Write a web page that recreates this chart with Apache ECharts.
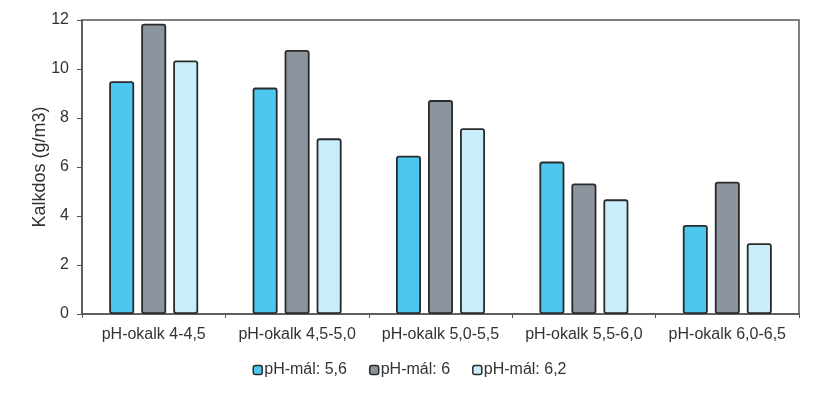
<!DOCTYPE html>
<html>
<head>
<meta charset="utf-8">
<script src="https://cdn.jsdelivr.net/npm/echarts@6/dist/echarts.min.js"></script>
<style>html,body{margin:0;padding:0;background:#fff}#c{width:819px;height:395px}</style>
</head>
<body>
<div id="c"></div>
<script>
const categories = ['pH-okalk 4-4,5', 'pH-okalk 4,5-5,0', 'pH-okalk 5,0-5,5', 'pH-okalk 5,5-6,0', 'pH-okalk 6,0-6,5'];
const seriesNames = ['pH-mál: 5,6', 'pH-mál: 6', 'pH-mál: 6,2'];
const ph56 = [9.5, 9.24, 6.46, 6.22, 3.63];
const ph6 = [11.85, 10.78, 8.73, 5.33, 5.4];
const ph62 = [10.35, 7.17, 7.58, 4.68, 2.89];
const colors = ['#4cc8f0', '#8c959e', '#c8eefb'];

const font = '"Liberation Sans", Arial, sans-serif';
const chart = echarts.init(document.getElementById('c'), null, {renderer: 'canvas'});
const mk = (name, data, i) => ({
  name, type: 'bar', data,
  barWidth: 25, barGap: '28%',
  itemStyle: {color: colors[i], borderColor: '#2a2a2a', borderWidth: 1.8, borderRadius: 2},
  emphasis: {disabled: true}
});
chart.setOption({
  animation: false,
  grid: {left: 82, right: 20, top: 20, bottom: 81, show: true, borderColor: '#555', borderWidth: 1.5, containLabel: false},
  legend: {
    bottom: 12, left: 'center', itemWidth: 9, itemHeight: 9, itemGap: 22,
    icon: 'roundRect',
    textStyle: {fontFamily: font, fontSize: 16, color: '#333', padding: [0, 0, 0, -3]},
    itemStyle: {borderColor: '#2a2a2a', borderWidth: 1.5},
    data: seriesNames
  },
  xAxis: {
    type: 'category', data: categories,
    axisLine: {lineStyle: {color: '#555', width: 1.5}},
    axisTick: {show: true, length: 4, lineStyle: {color: '#555'}},
    axisLabel: {fontFamily: font, fontSize: 16, color: '#333', margin: 13, interval: 0, hideOverlap: false},
    splitLine: {show: false}
  },
  yAxis: {
    type: 'value', min: 0, max: 12, interval: 2,
    name: 'Kalkdos (g/m3)', nameLocation: 'middle', nameGap: 33, nameMoveOverlap: false,
    nameTextStyle: {fontFamily: font, fontSize: 18, color: '#333'},
    axisLine: {show: true, lineStyle: {color: '#555', width: 1.5}},
    axisTick: {show: true, length: 5, lineStyle: {color: '#555'}},
    axisLabel: {fontFamily: font, fontSize: 16, color: '#333', margin: 13},
    splitLine: {show: false}
  },
  series: [mk(seriesNames[0], ph56, 0), mk(seriesNames[1], ph6, 1), mk(seriesNames[2], ph62, 2)]
});
</script>
</body>
</html>
